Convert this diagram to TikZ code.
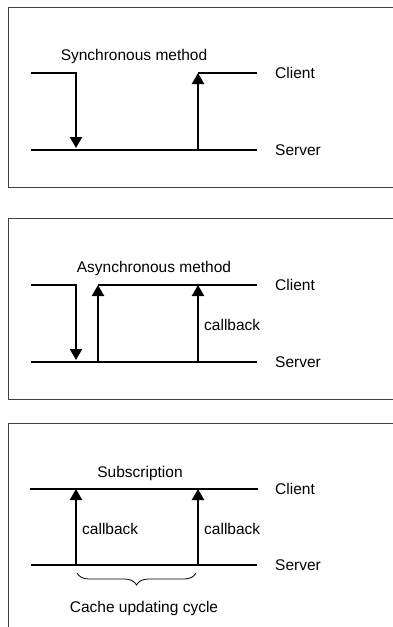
\documentclass[tikz,border=0pt]{standalone}
\usepackage{fontspec}
\setmainfont{Liberation Sans}
\usetikzlibrary{arrows.meta,decorations.pathreplacing}

\begin{document}
\begin{tikzpicture}[x=1pt,y=-1pt,
        frame/.style={draw=black!75, line width=0.9pt},
        wire/.style={line width=2.2pt},
        call/.style={wire, -{Triangle[width=12pt,length=11pt]}},
        lbl/.style={font=\fontsize{15.5}{18}\selectfont, inner sep=0pt}]
        \useasboundingbox (0,0) rectangle (393,627);

        % synchronous
        \draw[frame] (8,7) rectangle (400,187);
        \node[lbl, anchor=base] (sync) at (134,60) {Synchronous method};
        \node[lbl, anchor=west] (client1) at (275,73) {Client};
        \node[lbl, anchor=west] (server1) at (275,150) {Server};
        \coordinate (c1l) at (31,73);
        \coordinate (c1d) at (76,73);
        \coordinate (s1d) at (76,148);
        \coordinate (s1l) at (31,150);
        \coordinate (s1r) at (257,150);
        \coordinate (s1u) at (198,150);
        \coordinate (c1u) at (198,73);
        \coordinate (c1r) at (257,73);
        \draw[call] (c1l) -- (c1d) -- (s1d);
        \draw[wire] (s1l) -- (s1r);
        \draw[call] (s1u) -- (c1u);
        \draw[wire] (c1u) -- (c1r);

        % asynchronous
        \draw[frame] (8,218) rectangle (400,399);
        \node[lbl, anchor=base] (async) at (154,272) {Asynchronous method};
        \node[lbl, anchor=west] (client2) at (275,285) {Client};
        \node[lbl, anchor=west] (server2) at (275,362) {Server};
        \node[lbl, anchor=west] (back2) at (204,325) {callback};
        \coordinate (c2l) at (31,285);
        \coordinate (c2d) at (76,285);
        \coordinate (s2d) at (76,360);
        \coordinate (s2l) at (31,362);
        \coordinate (s2r) at (257,362);
        \coordinate (s2u) at (98,362);
        \coordinate (c2u) at (98,285);
        \coordinate (s2b) at (198,362);
        \coordinate (c2b) at (198,285);
        \coordinate (c2r) at (257,285);
        \draw[call] (c2l) -- (c2d) -- (s2d);
        \draw[wire] (s2l) -- (s2r);
        \draw[call] (s2u) -- (c2u);
        \draw[wire] (c2u) -- (c2r);
        \draw[call] (s2b) -- (c2b);

        % subscription
        \draw[frame] (8,423) rectangle (400,640);
        \node[lbl, anchor=base] (subs) at (140,477) {Subscription};
        \node[lbl, anchor=west] (client3) at (275,489) {Client};
        \node[lbl, anchor=west] (server3) at (275,565) {Server};
        \node[lbl, anchor=west] (back3a) at (82,529) {callback};
        \node[lbl, anchor=west] (back3b) at (204,529) {callback};
        \node[lbl, anchor=base] (cycle) at (144,612) {Cache updating cycle};
        \coordinate (c3l) at (30,489);
        \coordinate (c3r) at (258,489);
        \coordinate (s3l) at (31,565);
        \coordinate (s3r) at (257,565);
        \coordinate (s3a) at (76,565);
        \coordinate (c3a) at (76,489);
        \coordinate (s3b) at (198,565);
        \coordinate (c3b) at (198,489);
        \coordinate (cyc1) at (77,573);
        \coordinate (cyc2) at (196,573);
        \draw[wire] (c3l) -- (c3r);
        \draw[wire] (s3l) -- (s3r);
        \draw[call] (s3a) -- (c3a);
        \draw[call] (s3b) -- (c3b);
        \draw[line width=0.8pt, decorate, decoration={brace, mirror, amplitude=12pt}] (cyc1) -- (cyc2);
\end{tikzpicture}
\end{document}
